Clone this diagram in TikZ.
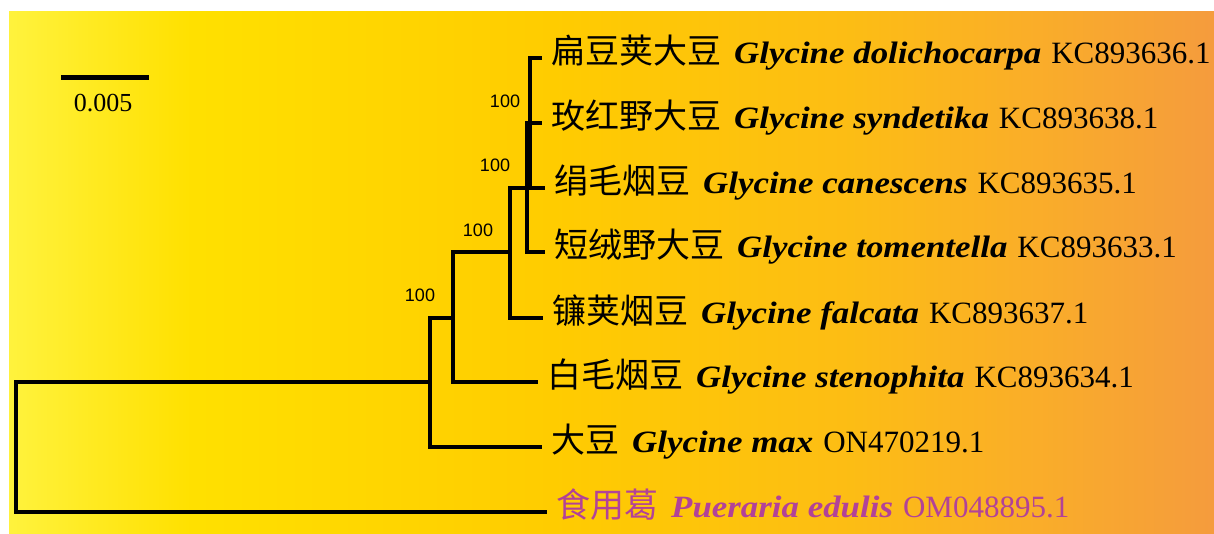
\documentclass[tikz,border=0pt]{standalone}
\usepackage{fontspec}
\setmainfont{Liberation Serif}
\newfontfamily\cjk{Noto Sans CJK SC}
\newfontfamily\arial{Liberation Sans}
\definecolor{pur}{RGB}{178,66,152}
\pgfdeclarehorizontalshading{bgshade}{100bp}{rgb(0bp)=(1,0.95,0.24); rgb(25bp)=(1,0.95,0.24); rgb(32.5bp)=(1,0.88,0); rgb(47.5bp)=(1,0.80,0); rgb(60bp)=(0.99,0.74,0.08); rgb(67.5bp)=(0.98,0.68,0.16); rgb(75bp)=(0.96,0.61,0.24); rgb(100bp)=(0.96,0.61,0.24)}
\newcommand\cnname[1]{{\cjk\fontsize{34}{34}\selectfont #1}\hspace{13pt}}
\newcommand\spname[1]{\scalebox{1.125}[1]{\textbf{\textit{#1}}}\hspace{10pt}}
\begin{document}
\begin{tikzpicture}[x=1pt,y=-1pt,
  br/.style={line width=3.2pt, line join=miter},
  tiplabel/.style={anchor=base west, inner sep=0pt, xshift=9pt, yshift=-5.5pt, font=\fontsize{31}{31}\selectfont},
  bs/.style={font=\arial\fontsize{18}{18}\selectfont, inner sep=0pt}]
\useasboundingbox (0,0) rectangle (1214,534);
\shade[shading=bgshade] (9,12) rectangle (1214,534);
% tree nodes
\coordinate (r) at (16,447);
\coordinate (n1) at (430,382);
\coordinate (n2) at (453,318);
\coordinate (n3) at (510,252);
\coordinate (n4) at (527,188);
\coordinate (n5) at (530,123);
\coordinate (t1) at (542,58);
\coordinate (t2) at (542,123);
\coordinate (t3) at (545,188);
\coordinate (t4) at (545,252);
\coordinate (t5) at (543,318);
\coordinate (t6) at (538,382);
\coordinate (t7) at (542,447);
\coordinate (t8) at (547,512);
% branches
\draw[br] (r) |- (n1);
\draw[br] (r) |- (t8);
\draw[br] (n1) |- (n2);
\draw[br] (n1) |- (t7);
\draw[br] (n2) |- (n3);
\draw[br] (n2) |- (t6);
\draw[br] (n3) |- (n4);
\draw[br] (n3) |- (t5);
\draw[br] (n4) |- (n5);
\draw[br] (n4) |- (t4);
\draw[br] (n5) |- (t1);
\draw[br] (n5) |- (t2);
\draw[br] (n5) |- (t3);
% tip labels
\node[tiplabel] (l1) at (t1) {\cnname{扁豆荚大豆}\spname{Glycine dolichocarpa}KC893636.1};
\node[tiplabel] (l2) at (t2) {\cnname{玫红野大豆}\spname{Glycine syndetika}KC893638.1};
\node[tiplabel] (l3) at (t3) {\cnname{绢毛烟豆}\spname{Glycine canescens}KC893635.1};
\node[tiplabel] (l4) at (t4) {\cnname{短绒野大豆}\spname{Glycine tomentella}KC893633.1};
\node[tiplabel] (l5) at (t5) {\cnname{镰荚烟豆}\spname{Glycine falcata}KC893637.1};
\node[tiplabel] (l6) at (t6) {\cnname{白毛烟豆}\spname{Glycine stenophita}KC893634.1};
\node[tiplabel] (l7) at (t7) {\cnname{大豆}\spname{Glycine max}ON470219.1};
\node[tiplabel, text=pur] (l8) at (t8) {\cnname{食用葛}\spname{Pueraria edulis}OM048895.1};
% bootstrap values
\node[bs] (b1) at (505,101) {100};
\node[bs] (b2) at (495,165) {100};
\node[bs] (b3) at (478,230) {100};
\node[bs] (b4) at (420,295) {100};
% scale bar
\coordinate (s1) at (61,78);
\coordinate (s2) at (149,78);
\draw[line width=5pt] (s1) -- (s2);
\node[anchor=base, inner sep=0pt, font=\fontsize{26}{26}\selectfont] (sl) at (103,112) {0.005};
\end{tikzpicture}
\end{document}
